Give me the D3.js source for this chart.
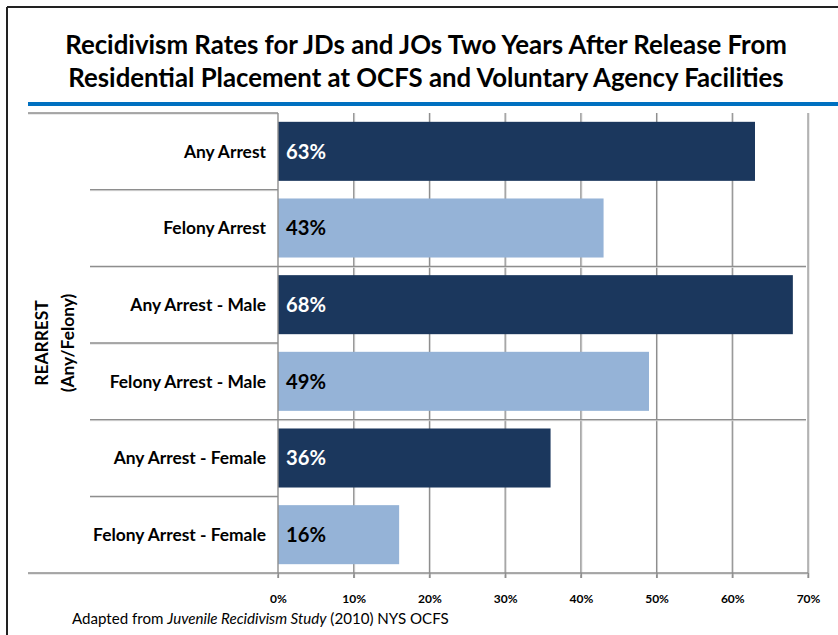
<!DOCTYPE html>
<html><head><meta charset="utf-8">
<script src="https://cdn.jsdelivr.net/npm/d3@7"></script>
<style>body{margin:0;background:#fff}svg{display:block}</style>
</head><body>
<svg id="c" width="838" height="635"></svg>
<script>
const titleLines = ["Recidivism Rates for JDs and JOs Two Years After Release From",
                    "Residential Placement at OCFS and Voluntary Agency Facilities"];
const categories = ["Any Arrest","Felony Arrest","Any Arrest - Male","Felony Arrest - Male","Any Arrest - Female","Felony Arrest - Female"];
const values = [0.63,0.43,0.68,0.49,0.36,0.16];
const barType = ["any","felony","any","felony","any","felony"];
const groupLabel = ["REARREST","(Any/Felony)"];
const xTicks = [0,0.1,0.2,0.3,0.4,0.5,0.6,0.7];
const groupBreaks = [2,4];

(function(){
const FONT = "Lato, 'Open Sans', sans-serif";
const svg = d3.select("#c").style("font-family", FONT);
const colors = {any:"#1B375D", felony:"#95B3D7"};
const labelColors = {any:"#ffffff", felony:"#000000"};

svg.append("line").attr("x1",7).attr("x2",838).attr("y1",7).attr("y2",7).attr("stroke","#222").attr("stroke-width",2);
svg.append("line").attr("x1",7).attr("x2",7).attr("y1",7).attr("y2",635).attr("stroke","#222").attr("stroke-width",2);

function fitSize(sel, w){ const l = sel.node().getComputedTextLength(); const fs = parseFloat(sel.attr("font-size")); return fs*w/l; }
function fit(sel, w){ sel.attr("font-size", fitSize(sel,w)); }
const t1 = svg.append("text").attr("x",426).attr("y",54).attr("text-anchor","middle").attr("font-weight","bold").attr("font-size",22).attr("fill","#000").text(titleLines[0]);
fit(t1, 722);
const t2 = svg.append("text").attr("x",426).attr("y",87).attr("text-anchor","middle").attr("font-weight","bold").attr("font-size",22).attr("fill","#000").text(titleLines[1]);
fit(t2, 716);
svg.append("rect").attr("x",28).attr("y",102).attr("width",810).attr("height",4).attr("fill","#0070C0");

const x = d3.scaleLinear().domain([0,0.7]).range([278,808]);
const y = d3.scaleBand().domain(categories).range([113,573]).paddingInner(0.23).paddingOuter(0.115);
const step = y.step();
const y0 = 113, y1 = 573;

const g = svg.append("g");
xTicks.slice(1).forEach(t=>{
  g.append("line").attr("x1",x(t)+1).attr("x2",x(t)+1).attr("y1",y0).attr("y2",y1+5).attr("stroke","#d6d6d6").attr("stroke-width",1);
  g.append("line").attr("x1",x(t)).attr("x2",x(t)).attr("y1",y0).attr("y2",y1+5).attr("stroke","#8e8e8e").attr("stroke-width",1.2);
});
for(let i=1;i<categories.length;i++){
  const yy = y0 + i*step;
  const isGroup = groupBreaks.includes(i);
  const x2 = isGroup ? 806 : 278;
  g.append("line").attr("x1",90).attr("x2",x2).attr("y1",yy+1).attr("y2",yy+1).attr("stroke","#d6d6d6");
  g.append("line").attr("x1",90).attr("x2",x2).attr("y1",yy).attr("y2",yy).attr("stroke","#8e8e8e").attr("stroke-width",1.4);
}
g.append("line").attr("x1",28).attr("x2",278).attr("y1",y0+1).attr("y2",y0+1).attr("stroke","#d6d6d6");
g.append("line").attr("x1",28).attr("x2",278).attr("y1",y0).attr("y2",y0).attr("stroke","#8e8e8e").attr("stroke-width",1.4);

svg.append("g").selectAll("rect").data(categories).join("rect")
  .attr("x",x(0)).attr("y",d=>y(d)).attr("width",(d,i)=>x(values[i])-x(0)).attr("height",y.bandwidth())
  .attr("fill",(d,i)=>colors[barType[i]]);

svg.append("line").attr("x1",278).attr("x2",278).attr("y1",y0).attr("y2",y1+5).attr("stroke","#8e8e8e").attr("stroke-width",1.4);
svg.append("line").attr("x1",28).attr("x2",808).attr("y1",y1+1).attr("y2",y1+1).attr("stroke","#d6d6d6");
const xAxis = d3.axisBottom(x).tickValues(xTicks).tickFormat(d3.format(".0%")).tickSize(5).tickPadding(16);
const ax = svg.append("g").attr("transform",`translate(0,${y1})`).call(xAxis);
ax.select(".domain").remove();
ax.selectAll(".tick line").attr("stroke","#8e8e8e").attr("stroke-width",1.2);
ax.selectAll(".tick text").attr("font-family",FONT).attr("font-weight","bold").attr("font-size",12).attr("fill","#000");
svg.append("line").attr("x1",28).attr("x2",808).attr("y1",y1).attr("y2",y1).attr("stroke","#8e8e8e").attr("stroke-width",1.4);

// data labels
const dl = svg.append("g").selectAll("text").data(categories).join("text")
  .attr("x",x(0)+8).attr("y",d=>y(d)+y.bandwidth()/2).attr("dy","0.36em")
  .attr("font-weight","bold").attr("font-size",18).attr("fill",(d,i)=>labelColors[barType[i]])
  .text((d,i)=>d3.format(".0%")(values[i]));
const dlSize = fitSize(dl.filter((d,i)=>i===0), 40);
dl.attr("font-size", dlSize);

// category labels
const cl = svg.append("g").selectAll("text").data(categories).join("text")
  .attr("x",266).attr("y",d=>y(d)+y.bandwidth()/2).attr("dy","0.36em").attr("text-anchor","end")
  .attr("font-weight","bold").attr("font-size",14.5).attr("fill","#000").text(d=>d);
const clSize = fitSize(cl.filter((d,i)=>i===5), 173);
cl.attr("font-size", clSize);

// group label
const gl1 = svg.append("text").attr("transform",`translate(48,343) rotate(-90)`).attr("text-anchor","middle")
  .attr("font-weight","bold").attr("font-size",clSize).attr("fill","#000").text(groupLabel[0]);
const gl2 = svg.append("text").attr("transform",`translate(74,343) rotate(-90)`).attr("text-anchor","middle")
  .attr("font-weight","bold").attr("font-size",clSize).attr("fill","#000").text(groupLabel[1]);

const fn = svg.append("text").attr("x",72).attr("y",624).attr("font-size",13.5).attr("fill","#000");
fn.append("tspan").text("Adapted from ");
fn.append("tspan").attr("font-style","italic").text("Juvenile Recidivism Study");
fn.append("tspan").text(" (2010) NYS OCFS");
fit(fn, 377);
})();
</script>
</body></html>
